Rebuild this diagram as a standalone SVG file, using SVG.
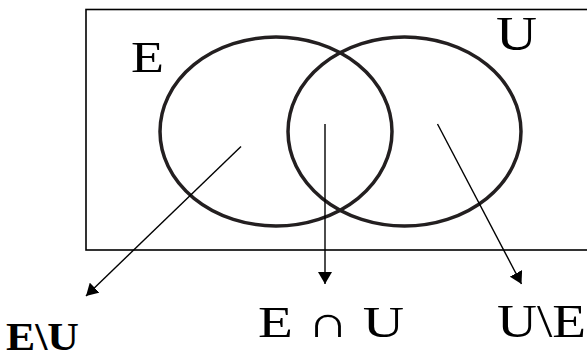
<svg xmlns="http://www.w3.org/2000/svg" width="587" height="360" viewBox="0 0 587 360">
<style>
.set{fill:none;stroke:#231f20;stroke-width:3.5}
.lbl{font-family:"Liberation Serif","Times New Roman",serif;fill:#000}
.conn{stroke:#000;stroke-width:1.4;fill:none}
</style>
<defs>
<marker id="ah" viewBox="0 0 12 14" refX="12" refY="7" markerWidth="12" markerHeight="14" orient="auto" markerUnits="userSpaceOnUse">
<path d="M0,0 L12,7 L0,14 z" fill="#000"/>
</marker>
</defs>
<rect width="587" height="360" fill="#fff"/>
<g id="universe">
<rect x="86" y="9.5" width="520" height="240.5" fill="none" stroke="#000" stroke-width="1.6"/>
</g>
<g id="setE">
<ellipse class="set" cx="276" cy="131.5" rx="116" ry="94.5"/>
<text class="lbl" x="131" y="72" font-size="45" textLength="33" lengthAdjust="spacingAndGlyphs">E</text>
</g>
<g id="setU">
<ellipse class="set" cx="404.5" cy="131.5" rx="116.5" ry="94.5"/>
<text class="lbl" x="496" y="50" font-size="48" textLength="41" lengthAdjust="spacingAndGlyphs">U</text>
</g>
<g id="connectors">
<line class="conn" x1="241" y1="146.5" x2="86" y2="296" marker-end="url(#ah)"/>
<line class="conn" x1="325" y1="124" x2="325" y2="284" marker-end="url(#ah)"/>
<line class="conn" x1="437.5" y1="124" x2="521.5" y2="284" marker-end="url(#ah)"/>
</g>
<g id="labelEminusU">
<text class="lbl" x="6" y="350" font-size="40" font-weight="bold" textLength="73" lengthAdjust="spacingAndGlyphs">E\U</text>
</g>
<g id="labelEandU">
<text class="lbl" x="258" y="337" font-size="44" textLength="146" lengthAdjust="spacingAndGlyphs">E ∩ U</text>
</g>
<g id="labelUminusE">
<text class="lbl" x="497" y="337" font-size="46" textLength="89" lengthAdjust="spacingAndGlyphs">U\E</text>
</g>
</svg>
